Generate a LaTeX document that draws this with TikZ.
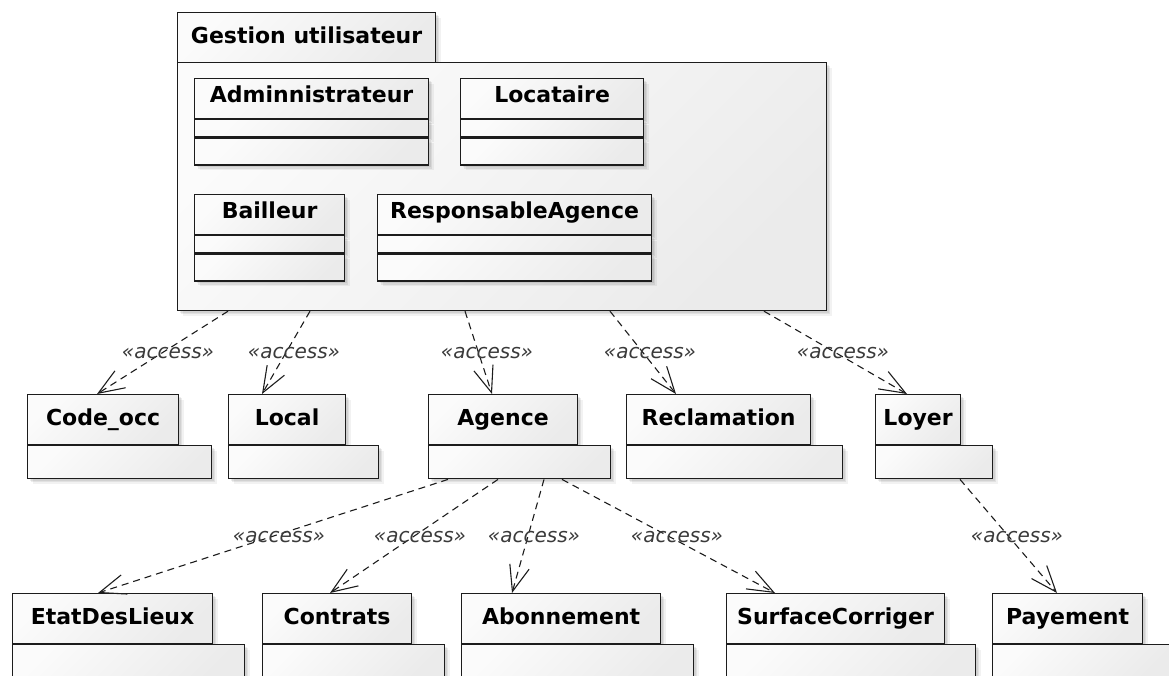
\documentclass[tikz,border=0pt]{standalone}
\usepackage{fontspec}
\setmainfont{DejaVu Sans}
\usetikzlibrary{arrows.meta,shadows}
\definecolor{umlline}{HTML}{1C1C1C}
\definecolor{umlfillA}{HTML}{FBFBFB}
\definecolor{umlfillB}{HTML}{EBEBEB}
\definecolor{deptext}{HTML}{3A3A3A}
\tikzset{
  softshadow/.style={
    general shadow={shadow xshift=2pt, shadow yshift=-2pt, fill=black, opacity=0.07},
    general shadow={shadow xshift=3.5pt, shadow yshift=-3.5pt, fill=black, opacity=0.07},
    general shadow={shadow xshift=5pt, shadow yshift=-5pt, fill=black, opacity=0.05}},
  umlbox/.style={draw=umlline, line width=1.2pt, rectangle, inner sep=0pt,
    anchor=north west, top color=umlfillA, bottom color=umlfillB, shading angle=45,
    softshadow},
  nametext/.style={font=\fontsize{22}{26}\selectfont\bfseries, text=black,
    text height=16.7pt, text depth=5.3pt},
  pkgtab/.style={umlbox, nametext, minimum height=50pt},
  pkgbody/.style={umlbox, minimum height=33pt},
  clshead/.style={umlbox, nametext, text depth=8pt, minimum height=40pt},
  clsattr/.style={umlbox, minimum height=17pt},
  clsops/.style={umlbox, minimum height=27pt},
  dep/.style={draw=umlline, line width=1.1pt, dash pattern=on 7pt off 5pt,
    -{Straight Barb[length=26pt, width=20pt, line width=1.1pt]}},
  deplabel/.style={font=\fontsize{20}{24}\selectfont\itshape, text=deptext, inner sep=0pt},
}
\begin{document}
\begin{tikzpicture}[x=1pt, y=-1pt]
\useasboundingbox (0,0) rectangle (1169,675);
\clip (0,0) rectangle (1169,675);

% package "Gestion utilisateur"
\node[pkgtab, minimum width=258pt] (gutab) at (177,12) {Gestion utilisateur};
\node[pkgbody, minimum width=649pt, minimum height=248pt] (gubody) at (177,62) {};

% classes inside the package
\node[clshead, minimum width=234pt] (adminh) at (194,78) {Adminnistrateur};
\node[clsattr, minimum width=234pt] (admina) at (adminh.south west) {};
\node[clsops,  minimum width=234pt] (admino) at (admina.south west) {};

\node[clshead, minimum width=183pt] (locah) at (460,78) {Locataire};
\node[clsattr, minimum width=183pt] (locaa) at (locah.south west) {};
\node[clsops,  minimum width=183pt] (locao) at (locaa.south west) {};

\node[clshead, minimum width=150pt] (bailh) at (194,194) {Bailleur};
\node[clsattr, minimum width=150pt] (baila) at (bailh.south west) {};
\node[clsops,  minimum width=150pt] (bailo) at (baila.south west) {};

\node[clshead, minimum width=274pt] (resph) at (377,194) {ResponsableAgence};
\node[clsattr, minimum width=274pt] (respa) at (resph.south west) {};
\node[clsops,  minimum width=274pt] (respo) at (respa.south west) {};

% second row of packages
\node[pkgtab, minimum width=151pt] (codeocct) at (27,394) {Code\_occ};
\node[pkgbody, minimum width=184pt] (codeoccb) at (codeocct.south west) {};

\node[pkgtab, minimum width=117pt] (localt) at (228,394) {Local};
\node[pkgbody, minimum width=150pt] (localb) at (localt.south west) {};

\node[pkgtab, minimum width=149pt] (agencet) at (428,394) {Agence};
\node[pkgbody, minimum width=182pt] (agenceb) at (agencet.south west) {};

\node[pkgtab, minimum width=184pt] (reclt) at (626,394) {Reclamation};
\node[pkgbody, minimum width=216pt] (reclb) at (reclt.south west) {};

\node[pkgtab, minimum width=85pt] (loyert) at (875,394) {Loyer};
\node[pkgbody, minimum width=117pt] (loyerb) at (loyert.south west) {};

% third row of packages
\node[pkgtab, minimum width=200pt] (etatt) at (12,593) {EtatDesLieux};
\node[pkgbody, minimum width=232pt] (etatb) at (etatt.south west) {};

\node[pkgtab, minimum width=149pt] (contratst) at (262,593) {Contrats};
\node[pkgbody, minimum width=182pt] (contratsb) at (contratst.south west) {};

\node[pkgtab, minimum width=199pt] (abont) at (461,593) {Abonnement};
\node[pkgbody, minimum width=232pt] (abonb) at (abont.south west) {};

\node[pkgtab, minimum width=218pt] (surfacet) at (726,593) {SurfaceCorriger};
\node[pkgbody, minimum width=249pt] (surfaceb) at (surfacet.south west) {};

\node[pkgtab, minimum width=150pt] (payt) at (992,593) {Payement};
\node[pkgbody, minimum width=182pt] (payb) at (payt.south west) {};

% access dependencies
\draw[dep] ([xshift=51pt]gubody.south west) -- ([xshift=70pt]codeocct.north west);
\draw[dep] ([xshift=133pt]gubody.south west) -- ([xshift=34pt]localt.north west);
\draw[dep] ([xshift=288pt]gubody.south west) -- ([xshift=64pt]agencet.north west);
\draw[dep] ([xshift=433pt]gubody.south west) -- ([xshift=50pt]reclt.north west);
\draw[dep] ([xshift=587pt]gubody.south west) -- ([xshift=32pt]loyert.north west);

\draw[dep] ([xshift=20pt]agenceb.south west) -- ([xshift=86pt]etatt.north west);
\draw[dep] ([xshift=70pt]agenceb.south west) -- ([xshift=68pt]contratst.north west);
\draw[dep] ([xshift=116pt]agenceb.south west) -- ([xshift=51pt]abont.north west);
\draw[dep] ([xshift=134pt]agenceb.south west) -- ([xshift=49pt]surfacet.north west);
\draw[dep] ([xshift=85pt]loyerb.south west) -- ([xshift=65pt]payt.north west);

% stereotype labels
\node[deplabel] (lab1) at (168,353) {«access»};
\node[deplabel] (lab2) at (294,353) {«access»};
\node[deplabel] (lab3) at (487,353) {«access»};
\node[deplabel] (lab4) at (650,353) {«access»};
\node[deplabel] (lab5) at (843,353) {«access»};
\node[deplabel] (lab6) at (279,537) {«access»};
\node[deplabel] (lab7) at (420,537) {«access»};
\node[deplabel] (lab8) at (534,537) {«access»};
\node[deplabel] (lab9) at (677,537) {«access»};
\node[deplabel] (lab10) at (1017,537) {«access»};
\end{tikzpicture}
\end{document}
